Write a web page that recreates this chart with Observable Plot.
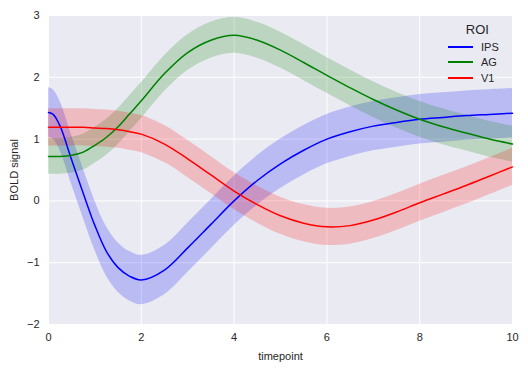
<!DOCTYPE html>
<html><head><meta charset="utf-8">
<script src="https://cdn.jsdelivr.net/npm/d3@7"></script>
<script src="https://cdn.jsdelivr.net/npm/@observablehq/plot@0.6"></script>
<style>
body{margin:0;background:#fff;font-family:"Liberation Sans",Arial,sans-serif;}
#wrap{position:relative;width:528px;height:369px;}
#legend{position:absolute;left:448px;top:22px;font-size:11px;color:#262626;}
#legend .title{font-size:13px;text-align:center;margin-left:8px;margin-bottom:2px;}
#legend .row{display:flex;align-items:center;height:15.5px;}
#legend .sw{width:25px;height:2px;margin-right:8px;}
</style></head>
<body><div id="wrap"><div id="legend"></div></div>
<script>
const timepoints = [0,0.1,0.25,0.5,0.75,1,1.25,1.5,1.75,2,2.5,3,3.5,4,4.5,5,5.5,6,6.5,7,7.5,8,8.5,9,9.5,10];
const ips = [1.43,1.40,1.21,0.66,0.12,-0.40,-0.82,-1.08,-1.22,-1.28,-1.12,-0.76,-0.38,0.0,0.33,0.60,0.82,1.0,1.12,1.21,1.27,1.32,1.35,1.38,1.40,1.42];
const ag  = [0.72,0.72,0.72,0.74,0.79,0.90,1.03,1.20,1.41,1.62,2.06,2.40,2.60,2.68,2.60,2.44,2.24,2.03,1.83,1.64,1.47,1.32,1.20,1.10,1.00,0.92];
const v1  = [1.19,1.19,1.19,1.19,1.19,1.18,1.17,1.15,1.12,1.08,0.92,0.68,0.42,0.16,-0.06,-0.24,-0.36,-0.42,-0.40,-0.31,-0.18,-0.03,0.11,0.25,0.40,0.55];
const roiNames = ["IPS","AG","V1"];
const roiColors = ["#0000ff","#008000","#ff0000"];
const roiErr = [0.4,0.29,0.3];
const yTicks = [-2,-1,0,1,2,3];
const xTicks = [0,2,4,6,8,10];

const series = [ips, ag, v1];
const rows = [];
series.forEach((vals, i) => vals.forEach((v, j) => rows.push({
  roi: roiNames[i], t: timepoints[j], v, lo: v - roiErr[i], hi: v + roiErr[i]
})));

const fmt = d => d < 0 ? "\u2212" + Math.abs(d) : String(d);
const curve = "catmull-rom";
const chart = Plot.plot({
  width: 528, height: 369,
  marginLeft: 48, marginRight: 16, marginTop: 15, marginBottom: 45,
  style: {fontFamily: "Liberation Sans, Arial, sans-serif", fontSize: "11px", color: "#262626", background: "#fff"},
  x: {domain: [0, 10], ticks: xTicks, tickFormat: fmt, label: null},
  y: {domain: [-2, 3], ticks: yTicks, tickFormat: fmt, label: null},
  color: {domain: roiNames, range: roiColors},
  marks: [
    Plot.frame({fill: "#EAEAF2", stroke: null}),
    Plot.gridX(xTicks, {stroke: "#fff", strokeOpacity: 1, strokeWidth: 1}),
    Plot.gridY(yTicks, {stroke: "#fff", strokeOpacity: 1, strokeWidth: 1}),
    Plot.areaY(rows, {x: "t", y1: "lo", y2: "hi", z: "roi", fill: "roi", fillOpacity: 0.2, curve}),
    Plot.line(rows, {x: "t", y: "v", z: "roi", stroke: "roi", strokeWidth: 1.5, curve}),
    Plot.axisX({ticks: xTicks, tickFormat: fmt, tickSize: 0, tickPadding: 9, label: "timepoint", labelAnchor: "center", labelArrow: "none", labelOffset: 35, fontSize: 11}),
    Plot.axisY({ticks: yTicks, tickFormat: fmt, tickSize: 0, tickPadding: 9, label: "BOLD signal", labelAnchor: "center", labelArrow: "none", labelOffset: 38, fontSize: 11})
  ]
});
document.getElementById("wrap").prepend(chart);
chart.style.position = "absolute"; chart.style.left = "0"; chart.style.top = "0";

const lg = document.getElementById("legend");
lg.innerHTML = `<div class="title">ROI</div>` + roiNames.map((n, i) =>
  `<div class="row"><div class="sw" style="background:${roiColors[i]}"></div><span>${n}</span></div>`).join("");
</script>
</body></html>
